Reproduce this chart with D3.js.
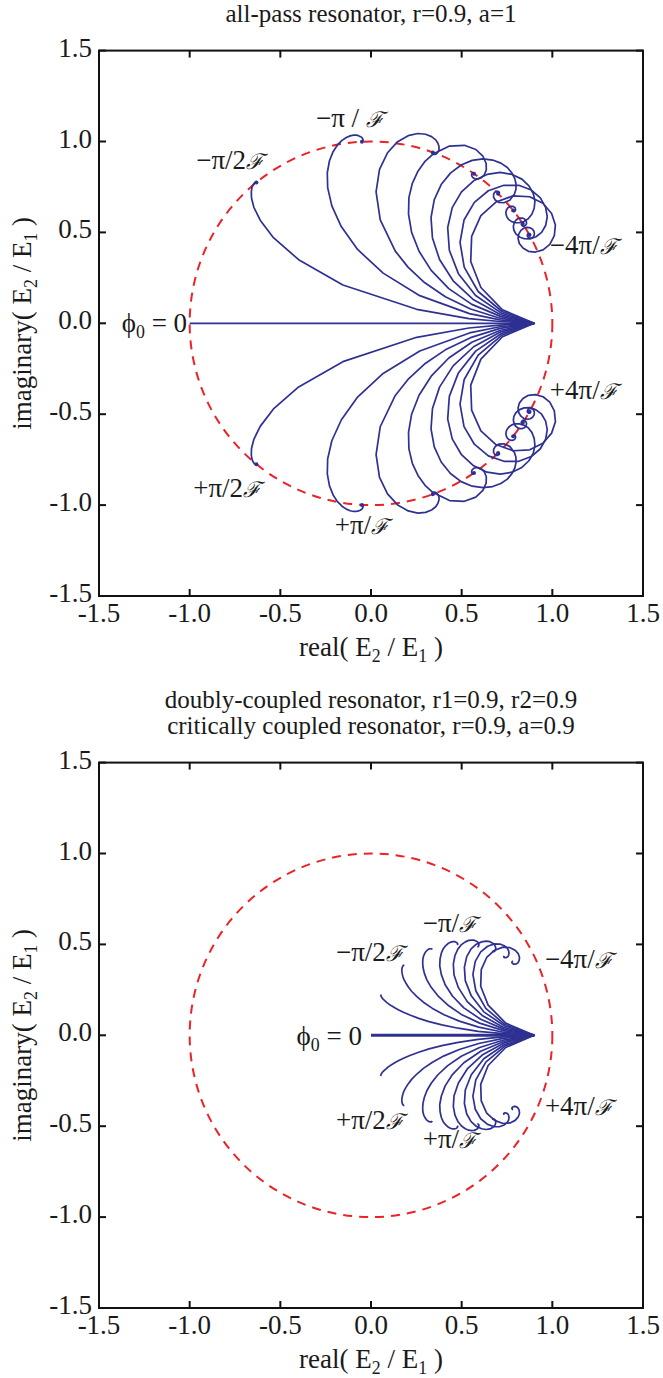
<!DOCTYPE html>
<html>
<head>
<meta charset="utf-8">
<script src="https://cdn.jsdelivr.net/npm/d3@7"></script>
<style>
  body { margin: 0; background: #ffffff; }
  svg text { font-family: "Liberation Serif", "Times New Roman", Times, serif; fill: #1a1a1a; }
</style>
</head>
<body>
<svg id="fig" width="663" height="1378"></svg>
<script>
// Axis ticks shared by both panels
const tickValues = [-1.5, -1.0, -0.5, 0.0, 0.5, 1.0, 1.5];
const tickLabels = ["-1.5", "-1.0", "-0.5", "0.0", "0.5", "1.0", "1.5"];

// Round-trip build-up of E2/E1 in the complex plane (upper half = negative detuning).
// The positive-detuning trajectories are the complex conjugates of these.
// --- all-pass resonator, r=0.9, a=1 ---
const apZero = [[0.9, 0], [-1.0, 0]];
const apHalfPi = [[0.9, 0], [0.710, 0.010], [0.540, 0.026], [0.252, 0.077], [-0.155, 0.211], [-0.399, 0.350],
  [-0.538, 0.471], [-0.611, 0.567], [-0.646, 0.638], [-0.659, 0.689], [-0.660, 0.723], [-0.657, 0.745],
  [-0.652, 0.759], [-0.647, 0.767], [-0.643, 0.772], [-0.639, 0.774], [-0.632, 0.775]];
const apPi = [[0.9, 0], [0.711, 0.019], [0.543, 0.053], [0.269, 0.152], [0.067, 0.276], [-0.074, 0.406],
  [-0.164, 0.532], [-0.216, 0.646], [-0.239, 0.746], [-0.241, 0.828], [-0.229, 0.894], [-0.209, 0.944],
  [-0.185, 0.981], [-0.160, 1.006], [-0.136, 1.022], [-0.115, 1.031], [-0.096, 1.035], [-0.081, 1.035],
  [-0.069, 1.032], [-0.060, 1.028], [-0.053, 1.024], [-0.048, 1.019], [-0.046, 1.015], [-0.044, 1.011],
  [-0.044, 1.007], [-0.044, 1.004], [-0.050, 0.999]];
const apThreeHalfPi = [[0.9, 0], [0.712, 0.028], [0.549, 0.079], [0.410, 0.146], [0.295, 0.224], [0.204, 0.309],
  [0.134, 0.397], [0.051, 0.569], [0.028, 0.723], [0.047, 0.847], [0.091, 0.938], [0.147, 0.999],
  [0.205, 1.032], [0.258, 1.044], [0.301, 1.040], [0.334, 1.027], [0.357, 1.009], [0.369, 0.990],
  [0.375, 0.972], [0.375, 0.956], [0.371, 0.945], [0.365, 0.936], [0.359, 0.931], [0.353, 0.929],
  [0.347, 0.929], [0.343, 0.930], [0.340, 0.932], [0.338, 0.934], [0.341, 0.940]];
const apTwoPi = [[0.9, 0], [0.714, 0.038], [0.556, 0.104], [0.429, 0.191], [0.332, 0.291], [0.265, 0.396],
  [0.224, 0.500], [0.207, 0.600], [0.209, 0.691], [0.228, 0.770], [0.259, 0.837], [0.298, 0.891],
  [0.342, 0.931], [0.433, 0.975], [0.515, 0.979], [0.578, 0.956], [0.617, 0.919], [0.635, 0.879],
  [0.636, 0.844], [0.625, 0.817], [0.609, 0.801], [0.591, 0.794], [0.576, 0.794], [0.565, 0.799],
  [0.558, 0.806], [0.555, 0.814], [0.555, 0.820], [0.557, 0.825], [0.561, 0.828], [0.564, 0.829], [0.568, 0.823]];
const apFiveHalfPi = [[0.9, 0], [0.716, 0.047], [0.566, 0.129], [0.453, 0.234], [0.378, 0.351], [0.339, 0.469],
  [0.331, 0.581], [0.349, 0.680], [0.387, 0.763], [0.438, 0.826], [0.497, 0.871], [0.558, 0.896],
  [0.618, 0.904], [0.671, 0.898], [0.716, 0.881], [0.752, 0.857], [0.777, 0.827], [0.793, 0.796],
  [0.800, 0.765], [0.799, 0.736], [0.791, 0.711], [0.765, 0.677], [0.733, 0.663], [0.704, 0.665],
  [0.685, 0.678], [0.676, 0.694], [0.676, 0.710], [0.682, 0.720], [0.691, 0.726], [0.699, 0.726],
  [0.705, 0.723], [0.708, 0.719], [0.708, 0.715], [0.701, 0.713]];
const apThreePi = [[0.9, 0], [0.719, 0.056], [0.577, 0.153], [0.482, 0.273], [0.432, 0.402], [0.423, 0.527],
  [0.448, 0.636], [0.499, 0.723], [0.566, 0.784], [0.640, 0.819], [0.713, 0.830], [0.778, 0.819],
  [0.832, 0.793], [0.871, 0.756], [0.895, 0.714], [0.904, 0.672], [0.900, 0.633], [0.887, 0.600],
  [0.867, 0.575], [0.843, 0.560], [0.818, 0.553], [0.795, 0.553], [0.776, 0.559], [0.760, 0.570],
  [0.750, 0.584], [0.745, 0.598], [0.744, 0.611], [0.747, 0.623], [0.753, 0.633], [0.760, 0.639],
  [0.768, 0.643], [0.776, 0.644], [0.784, 0.643], [0.789, 0.640], [0.794, 0.636], [0.796, 0.631],
  [0.797, 0.626], [0.797, 0.622], [0.795, 0.619], [0.793, 0.616], [0.790, 0.614], [0.784, 0.621]];
const apSevenHalfPi = [[0.9, 0], [0.722, 0.065], [0.591, 0.175], [0.514, 0.309], [0.491, 0.445], [0.513, 0.568],
  [0.570, 0.665], [0.647, 0.729], [0.733, 0.759], [0.815, 0.759], [0.884, 0.733], [0.934, 0.690],
  [0.963, 0.638], [0.972, 0.585], [0.963, 0.538], [0.941, 0.500], [0.910, 0.476], [0.877, 0.464],
  [0.845, 0.465], [0.819, 0.475], [0.799, 0.492], [0.788, 0.512], [0.785, 0.532], [0.789, 0.551],
  [0.797, 0.565], [0.809, 0.575], [0.822, 0.579], [0.835, 0.579], [0.845, 0.575], [0.852, 0.568],
  [0.856, 0.560], [0.858, 0.552], [0.856, 0.545], [0.853, 0.540], [0.848, 0.536], [0.843, 0.534],
  [0.838, 0.534], [0.834, 0.536], [0.832, 0.539], [0.830, 0.542], [0.829, 0.545], [0.830, 0.547], [0.837, 0.547]];
const apFourPi = [[0.9, 0], [0.725, 0.074], [0.606, 0.197], [0.550, 0.340], [0.555, 0.478], [0.606, 0.592],
  [0.689, 0.667], [0.784, 0.701], [0.875, 0.696], [0.948, 0.660], [0.996, 0.604], [1.017, 0.541],
  [1.011, 0.482], [0.986, 0.434], [0.949, 0.404], [0.907, 0.392], [0.868, 0.396], [0.838, 0.414],
  [0.818, 0.439], [0.811, 0.466], [0.815, 0.492], [0.827, 0.511], [0.844, 0.524], [0.862, 0.528],
  [0.879, 0.525], [0.891, 0.517], [0.899, 0.505], [0.901, 0.493], [0.899, 0.482], [0.894, 0.474],
  [0.886, 0.469], [0.878, 0.468], [0.871, 0.470], [0.866, 0.474], [0.863, 0.479], [0.862, 0.484],
  [0.863, 0.489], [0.866, 0.492], [0.869, 0.494], [0.873, 0.494], [0.876, 0.493], [0.878, 0.491],
  [0.879, 0.489], [0.874, 0.486]];

// --- doubly-coupled (r1=r2=0.9) / critically coupled (r=a=0.9) resonator ---
const ccZero = [[0.9, 0], [0.0, 0]];
const ccHalfPi = [[0.9, 0], [0.729, 0.009], [0.591, 0.022], [0.481, 0.039], [0.391, 0.057], [0.320, 0.075],
  [0.263, 0.093], [0.218, 0.110], [0.182, 0.125], [0.153, 0.139], [0.131, 0.151], [0.113, 0.162],
  [0.099, 0.171], [0.088, 0.180], [0.080, 0.187], [0.073, 0.193], [0.068, 0.198], [0.064, 0.202],
  [0.061, 0.206], [0.059, 0.209], [0.057, 0.212], [0.053, 0.224]];
const ccPi = [[0.9, 0], [0.730, 0.017], [0.594, 0.045], [0.487, 0.078], [0.403, 0.113], [0.339, 0.148],
  [0.289, 0.182], [0.253, 0.213], [0.225, 0.241], [0.206, 0.266], [0.192, 0.288], [0.182, 0.306],
  [0.176, 0.322], [0.173, 0.335], [0.171, 0.346], [0.170, 0.355], [0.170, 0.362], [0.171, 0.368],
  [0.172, 0.373], [0.173, 0.376], [0.175, 0.379], [0.176, 0.381], [0.177, 0.383], [0.179, 0.385], [0.184, 0.386]];
const ccThreeHalfPi = [[0.9, 0], [0.731, 0.026], [0.599, 0.067], [0.498, 0.115], [0.423, 0.167], [0.369, 0.217],
  [0.332, 0.264], [0.308, 0.305], [0.294, 0.342], [0.287, 0.373], [0.285, 0.398], [0.286, 0.419],
  [0.290, 0.436], [0.295, 0.448], [0.301, 0.458], [0.307, 0.465], [0.312, 0.470], [0.317, 0.473],
  [0.321, 0.475], [0.325, 0.476], [0.328, 0.476], [0.330, 0.476], [0.332, 0.476], [0.334, 0.476],
  [0.335, 0.475], [0.337, 0.471]];
const ccTwoPi = [[0.9, 0], [0.732, 0.034], [0.605, 0.088], [0.512, 0.151], [0.449, 0.216], [0.409, 0.278],
  [0.388, 0.334], [0.379, 0.382], [0.381, 0.421], [0.388, 0.452], [0.398, 0.475], [0.411, 0.492],
  [0.423, 0.503], [0.435, 0.510], [0.445, 0.514], [0.454, 0.515], [0.461, 0.515], [0.467, 0.513],
  [0.471, 0.511], [0.474, 0.509], [0.476, 0.506], [0.478, 0.504], [0.478, 0.502], [0.478, 0.501], [0.475, 0.497]];
const ccFiveHalfPi = [[0.9, 0], [0.734, 0.042], [0.613, 0.109], [0.531, 0.185], [0.482, 0.262], [0.458, 0.332],
  [0.454, 0.391], [0.463, 0.439], [0.479, 0.474], [0.499, 0.499], [0.520, 0.514], [0.539, 0.522],
  [0.555, 0.524], [0.569, 0.523], [0.579, 0.519], [0.587, 0.514], [0.591, 0.509], [0.594, 0.503],
  [0.595, 0.499], [0.595, 0.495], [0.594, 0.492], [0.593, 0.490], [0.591, 0.488], [0.586, 0.489]];
const ccThreePi = [[0.9, 0], [0.737, 0.051], [0.622, 0.129], [0.553, 0.217], [0.520, 0.301], [0.515, 0.375],
  [0.528, 0.433], [0.552, 0.475], [0.581, 0.501], [0.610, 0.514], [0.635, 0.518], [0.656, 0.515],
  [0.671, 0.507], [0.681, 0.498], [0.686, 0.488], [0.688, 0.480], [0.688, 0.472], [0.685, 0.467],
  [0.682, 0.463], [0.679, 0.461], [0.676, 0.460], [0.674, 0.460], [0.672, 0.461], [0.671, 0.466]];
const ccSevenHalfPi = [[0.9, 0], [0.739, 0.059], [0.633, 0.148], [0.578, 0.245], [0.562, 0.335], [0.575, 0.407],
  [0.605, 0.459], [0.643, 0.490], [0.680, 0.503], [0.711, 0.502], [0.735, 0.493], [0.751, 0.480],
  [0.759, 0.465], [0.761, 0.452], [0.759, 0.441], [0.755, 0.433], [0.749, 0.429], [0.744, 0.427],
  [0.739, 0.427], [0.735, 0.428], [0.733, 0.430], [0.732, 0.432], [0.735, 0.437]];
const ccFourPi = [[0.9, 0], [0.743, 0.067], [0.646, 0.166], [0.605, 0.270], [0.608, 0.361], [0.638, 0.428],
  [0.682, 0.468], [0.728, 0.485], [0.767, 0.482], [0.795, 0.468], [0.812, 0.449], [0.819, 0.429],
  [0.817, 0.412], [0.811, 0.400], [0.802, 0.393], [0.794, 0.391], [0.786, 0.392], [0.781, 0.395],
  [0.778, 0.398], [0.777, 0.402], [0.778, 0.405], [0.779, 0.407], [0.784, 0.406]];

// Steady-state locus of the lossless ring: unit circle
const circleRadius = 1.0;

const svg = d3.select("#fig");
const blue = "#2e3192";
const red = "#ec2227";
const serif = "'Liberation Serif', 'Times New Roman', serif";
const fontSize = 27;

function richText(sel, parts, size) {
  // parts: [text, role] where role is "" | "sub" | "script"
  let inSub = false;
  parts.forEach(([s, role]) => {
    const t = sel.append("tspan").text(s);
    if (role === "sub") {
      t.attr("font-size", size * 0.66).attr("dy", size * 0.22);
      inSub = true;
      return;
    }
    if (inSub) { t.attr("dy", -size * 0.22); inSub = false; }
    if (role === "script") {
      t.attr("font-family", "'DejaVu Serif', serif").attr("font-style", "italic")
        .attr("font-size", size * 0.8);
    }
  });
}

function drawPanel(cfg) {
  const x = d3.scaleLinear().domain([-1.5, 1.5]).range([99, 643]);
  const y = d3.scaleLinear().domain([-1.5, 1.5]).range([cfg.y0 + 272.7, cfg.y0 - 272.7]);
  const g = svg.append("g").attr("font-family", serif);

  // dashed unit circle
  g.append("ellipse")
    .attr("cx", x(0)).attr("cy", y(0))
    .attr("rx", x(circleRadius) - x(0)).attr("ry", y(0) - y(circleRadius))
    .attr("fill", "none").attr("stroke", red).attr("stroke-width", 2)
    .attr("stroke-dasharray", "9,7");

  const lineUp = d3.line().x(d => x(d[0])).y(d => y(d[1]));
  const lineDown = d3.line().x(d => x(d[0])).y(d => y(-d[1]));

  cfg.curves.forEach(c => {
    g.append("path").attr("d", lineUp(c)).attr("fill", "none")
      .attr("stroke", blue).attr("stroke-width", 1.7).attr("stroke-linejoin", "round");
    g.append("path").attr("d", lineDown(c)).attr("fill", "none")
      .attr("stroke", blue).attr("stroke-width", 1.7).attr("stroke-linejoin", "round");
    if (cfg.dots) {
      const e = c[c.length - 1];
      g.append("circle").attr("cx", x(e[0])).attr("cy", y(e[1])).attr("r", 2).attr("fill", blue);
      g.append("circle").attr("cx", x(e[0])).attr("cy", y(-e[1])).attr("r", 2).attr("fill", blue);
    }
  });
  g.append("path").attr("d", lineUp(cfg.zero)).attr("fill", "none")
    .attr("stroke", blue).attr("stroke-width", cfg.zeroWidth);

  // frame with inward ticks on all sides
  const [x0, x1] = x.range();
  const [yb, yt] = y.range();
  g.append("rect").attr("x", x0).attr("y", yt).attr("width", x1 - x0).attr("height", yb - yt)
    .attr("fill", "none").attr("stroke", "#111").attr("stroke-width", 2);
  const tl = 7;
  tickValues.forEach((v, i) => {
    g.append("line").attr("x1", x(v)).attr("x2", x(v)).attr("y1", yb).attr("y2", yb - tl)
      .attr("stroke", "#111").attr("stroke-width", 2);
    g.append("line").attr("x1", x(v)).attr("x2", x(v)).attr("y1", yt).attr("y2", yt + tl)
      .attr("stroke", "#111").attr("stroke-width", 2);
    g.append("line").attr("x1", x0).attr("x2", x0 + tl).attr("y1", y(v)).attr("y2", y(v))
      .attr("stroke", "#111").attr("stroke-width", 2);
    g.append("line").attr("x1", x1).attr("x2", x1 - tl).attr("y1", y(v)).attr("y2", y(v))
      .attr("stroke", "#111").attr("stroke-width", 2);
    g.append("text").attr("x", x(v)).attr("y", yb + 26).attr("text-anchor", "middle")
      .attr("font-family", serif).attr("font-size", fontSize).text(tickLabels[i]);
    g.append("text").attr("x", x0 - 7).attr("y", y(v) + 6).attr("text-anchor", "end")
      .attr("font-family", serif).attr("font-size", fontSize).text(tickLabels[i]);
  });

  // axis titles
  richText(g.append("text").attr("x", (x0 + x1) / 2).attr("y", yb + 60)
    .attr("text-anchor", "middle").attr("font-family", serif).attr("font-size", fontSize),
    [["real( E", ""], ["2", "sub"], [" / E", ""], ["1", "sub"], [" )", ""]], fontSize);
  richText(g.append("text").attr("transform", `translate(31,${y(0)}) rotate(-90)`)
    .attr("text-anchor", "middle").attr("font-family", serif).attr("font-size", fontSize),
    [["imaginary( E", ""], ["2", "sub"], [" / E", ""], ["1", "sub"], [" )", ""]], fontSize);

  // panel title lines
  cfg.titles.forEach((t, i) => {
    g.append("text").attr("x", (x0 + x1) / 2).attr("y", cfg.titleY + i * 26)
      .attr("text-anchor", "middle").attr("font-family", serif).attr("font-size", 25).text(t);
  });

  // detuning annotations
  cfg.labels.forEach(l => {
    richText(g.append("text").attr("x", x(l.x)).attr("y", y(l.y))
      .attr("text-anchor", l.anchor).attr("font-family", serif).attr("font-size", fontSize), l.parts, fontSize);
  });
}

const F = "\u2131";
drawPanel({
  y0: 323.3,
  curves: [apHalfPi, apPi, apThreeHalfPi, apTwoPi, apFiveHalfPi, apThreePi, apSevenHalfPi, apFourPi],
  zero: apZero, zeroWidth: 1.7, dots: true,
  titles: ["all-pass resonator, r=0.9, a=1"], titleY: 22,
  labels: [
    { x: -0.116, y: 1.08, anchor: "middle", parts: [["\u2212\u03c0 / ", ""], [F, "script"]] },
    { x: -0.777, y: 0.849, anchor: "middle", parts: [["\u2212\u03c0/2", ""], [F, "script"]] },
    { x: 0.986, y: 0.381, anchor: "start", parts: [["\u22124\u03c0/", ""], [F, "script"]] },
    { x: -1.014, y: -0.048, anchor: "end", parts: [["\u03d5", ""], ["0", "sub"], [" = 0", ""]] },
    { x: 0.986, y: -0.416, anchor: "start", parts: [["+4\u03c0/", ""], [F, "script"]] },
    { x: -0.793, y: -0.955, anchor: "middle", parts: [["+\u03c0/2", ""], [F, "script"]] },
    { x: -0.05, y: -1.159, anchor: "middle", parts: [["+\u03c0/", ""], [F, "script"]] }
  ]
});
drawPanel({
  y0: 1035.3,
  curves: [ccHalfPi, ccPi, ccThreeHalfPi, ccTwoPi, ccFiveHalfPi, ccThreePi, ccSevenHalfPi, ccFourPi],
  zero: ccZero, zeroWidth: 3, dots: false,
  titles: ["doubly-coupled resonator, r1=0.9, r2=0.9", "critically coupled resonator, r=0.9, a=0.9"],
  titleY: 708,
  labels: [
    { x: 0.435, y: 0.568, anchor: "middle", parts: [["\u2212\u03c0/", ""], [F, "script"]] },
    { x: -0.006, y: 0.409, anchor: "middle", parts: [["\u2212\u03c0/2", ""], [F, "script"]] },
    { x: 0.959, y: 0.370, anchor: "start", parts: [["\u22124\u03c0/", ""], [F, "script"]] },
    { x: -0.05, y: -0.053, anchor: "end", parts: [["\u03d5", ""], ["0", "sub"], [" = 0", ""]] },
    { x: -0.006, y: -0.515, anchor: "middle", parts: [["+\u03c0/2", ""], [F, "script"]] },
    { x: 0.959, y: -0.439, anchor: "start", parts: [["+4\u03c0/", ""], [F, "script"]] },
    { x: 0.435, y: -0.619, anchor: "middle", parts: [["+\u03c0/", ""], [F, "script"]] }
  ]
});
</script>
</body>
</html>
